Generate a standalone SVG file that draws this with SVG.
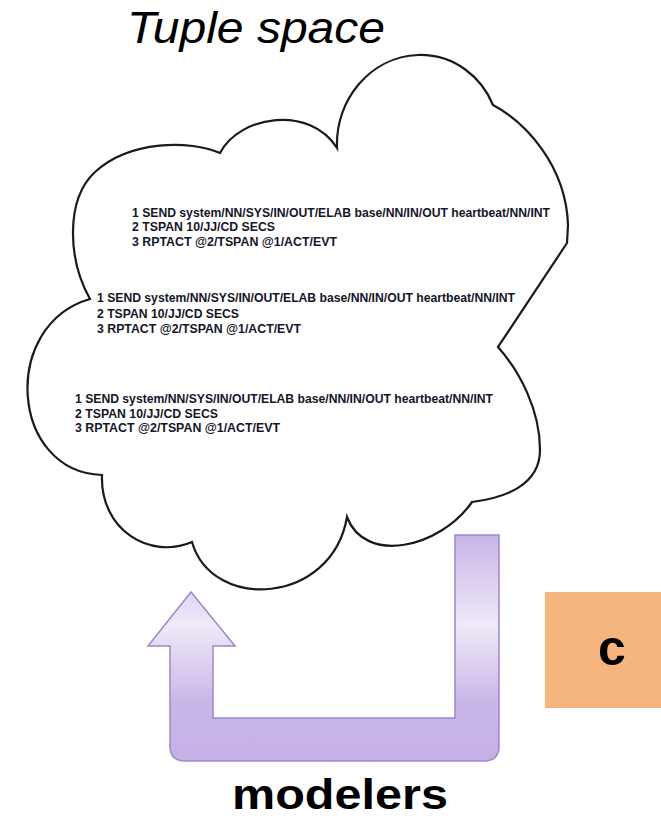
<svg xmlns="http://www.w3.org/2000/svg" width="661" height="818" viewBox="0 0 661 818">
<defs>
<style>
.tuple{font-family:"Liberation Sans",Arial,sans-serif;font-weight:bold;font-size:12px;fill:#15152a}
.title{font-family:"Liberation Sans",Arial,sans-serif;font-style:italic;font-size:45px;fill:#000}
.label{font-family:"Liberation Sans",Arial,sans-serif;font-weight:bold;fill:#000}
.cloud{fill:#fff;stroke:#1a1a1a;stroke-width:2.2;stroke-linejoin:miter}
</style>
<linearGradient id="purp" gradientUnits="userSpaceOnUse" x1="0" y1="535" x2="0" y2="761">
<stop offset="0" stop-color="#c7b4e7"/>
<stop offset="0.4" stop-color="#efe9f8"/>
<stop offset="0.74" stop-color="#c9b6e8"/>
<stop offset="1" stop-color="#c5b1e6"/>
</linearGradient>
</defs>
<rect width="661" height="818" fill="#fff"/>

<g id="title">
<text class="title" x="127" y="43" textLength="258" lengthAdjust="spacingAndGlyphs">Tuple space</text>
</g>

<g id="tuple-space">
<path class="cloud" d="M337,148 C335,100 370,57 418,55 C455,54 482,78 493,105 C525,122 566,165 568,225 L567,243 L498,347 C520,372 540,410 540,450 C540,485 505,498 472,502 C440,548 365,565 347,517 C332,605 212,612 192,542 C150,560 100,530 102,475 C10,472 0,325 90,299 C68,260 65,200 95,172 C130,140 190,140 220,153 C240,115 310,105 337,148 Z"/>
</g>

<g id="tuple-1">
<text class="tuple" x="132" y="217" textLength="418" lengthAdjust="spacingAndGlyphs">1 SEND system/NN/SYS/IN/OUT/ELAB base/NN/IN/OUT heartbeat/NN/INT</text>
<text class="tuple" x="132" y="231" textLength="143" lengthAdjust="spacingAndGlyphs">2 TSPAN 10/JJ/CD SECS</text>
<text class="tuple" x="132" y="246" textLength="205" lengthAdjust="spacingAndGlyphs">3 RPTACT @2/TSPAN @1/ACT/EVT</text>
</g>
<g id="tuple-2">
<text class="tuple" x="97" y="302" textLength="418" lengthAdjust="spacingAndGlyphs">1 SEND system/NN/SYS/IN/OUT/ELAB base/NN/IN/OUT heartbeat/NN/INT</text>
<text class="tuple" x="97" y="318" textLength="142" lengthAdjust="spacingAndGlyphs">2 TSPAN 10/JJ/CD SECS</text>
<text class="tuple" x="97" y="333" textLength="204" lengthAdjust="spacingAndGlyphs">3 RPTACT @2/TSPAN @1/ACT/EVT</text>
</g>
<g id="tuple-3">
<text class="tuple" x="75" y="403" textLength="418" lengthAdjust="spacingAndGlyphs">1 SEND system/NN/SYS/IN/OUT/ELAB base/NN/IN/OUT heartbeat/NN/INT</text>
<text class="tuple" x="75" y="418" textLength="143" lengthAdjust="spacingAndGlyphs">2 TSPAN 10/JJ/CD SECS</text>
<text class="tuple" x="75" y="432" textLength="205" lengthAdjust="spacingAndGlyphs">3 RPTACT @2/TSPAN @1/ACT/EVT</text>
</g>

<g id="connectors">
<path d="M170,646 L148,646 L191,592 L235,646 L213,646 L213,718 L455,718 L455,535 L499,535 L499,746 Q499,761 484,761 L185,761 Q170,761 170,746 Z" fill="url(#purp)" stroke="#9f86c9" stroke-width="1.5" stroke-linejoin="miter"/>
</g>

<g id="c">
<rect x="545" y="592" width="116" height="116" fill="#f6b47f"/>
<text class="label" x="612" y="665" font-size="50" text-anchor="middle">c</text>
</g>

<g id="modelers">
<text class="label" x="232" y="809" font-size="42" textLength="216" lengthAdjust="spacingAndGlyphs">modelers</text>
</g>
</svg>
